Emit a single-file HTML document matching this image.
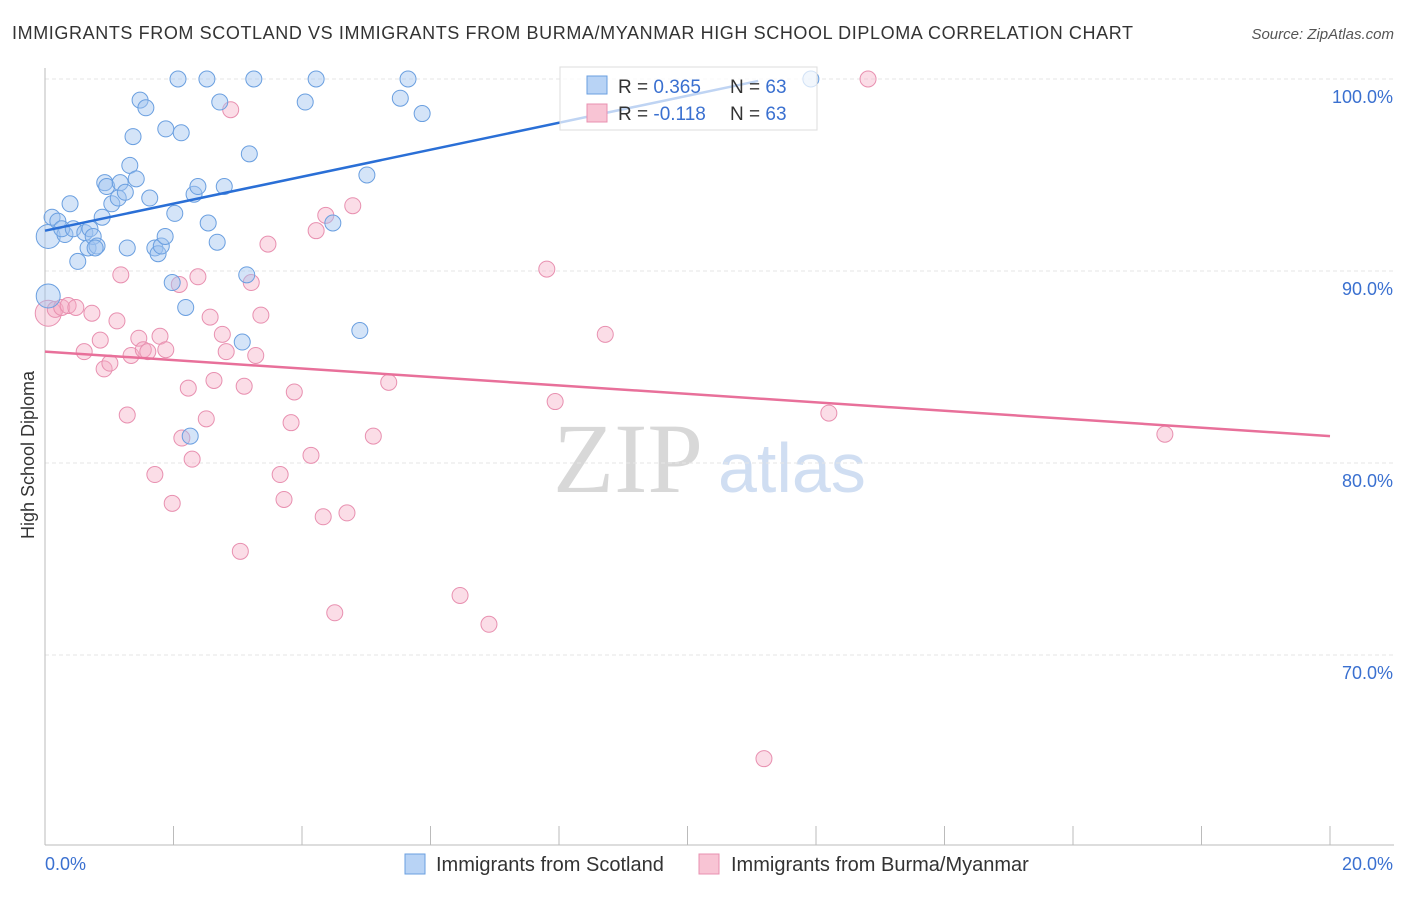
<!DOCTYPE html>
<html><head><meta charset="utf-8"><style>
body{margin:0;background:#fff;font-family:"Liberation Sans",sans-serif}
</style></head><body>
<svg id="c" width="1406" height="892" font-family="Liberation Sans, sans-serif">
<text x="12" y="39" font-size="18" fill="#333" textLength="1121">IMMIGRANTS FROM SCOTLAND VS IMMIGRANTS FROM BURMA/MYANMAR HIGH SCHOOL DIPLOMA CORRELATION CHART</text>
<text x="1394" y="39" font-size="15" fill="#555" text-anchor="end" font-style="italic">Source: ZipAtlas.com</text>
<text x="553" y="492" font-size="100" fill="#d8d8d8" style="font-family:'Liberation Serif',serif">ZIP</text>
<text x="718" y="492" font-size="70" fill="#d0def2">atlas</text>
<text x="34" y="455" font-size="18" fill="#333" transform="rotate(-90 34 455)" text-anchor="middle">High School Diploma</text>
<g id="grid"></g><g id="pts"></g><g id="lines"></g>
<g id="legend">
<rect x="560" y="67" width="257" height="63" fill="#fff" fill-opacity="0.7" stroke="#ddd"/>
<rect x="587" y="76" width="20" height="18" fill="#b8d3f5" stroke="#6a9fe0"/>
<rect x="587" y="104" width="20" height="18" fill="#f8c4d4" stroke="#e890b0"/>
<text x="618" y="93" font-size="19" fill="#333">R = <tspan fill="#3a70d0">0.365</tspan></text>
<text x="730" y="93" font-size="19" fill="#333">N = <tspan fill="#3a70d0">63</tspan></text>
<text x="618" y="120" font-size="19" fill="#333">R = <tspan fill="#3a70d0">-0.118</tspan></text>
<text x="730" y="120" font-size="19" fill="#333">N = <tspan fill="#3a70d0">63</tspan></text>
</g>
<g>
<rect x="405" y="854" width="20" height="20" fill="#b8d3f5" stroke="#6a9fe0"/>
<text x="436" y="871" font-size="20" fill="#333">Immigrants from Scotland</text>
<rect x="699" y="854" width="20" height="20" fill="#f8c4d4" stroke="#e890b0"/>
<text x="731" y="871" font-size="20" fill="#333">Immigrants from Burma/Myanmar</text>
</g>
</svg>
<script>
const yTicks=[100,90,80,70];
const xTickLabels=["0.0%","20.0%"];
const blueX=[0.05,0.05,0.11,0.2,0.31,0.39,0.26,0.44,0.51,0.62,0.67,0.7,0.75,0.81,0.78,0.89,0.93,0.96,1.04,1.14,1.17,1.25,1.28,1.32,1.37,1.42,1.48,1.57,1.63,1.71,1.76,1.81,1.87,1.88,1.98,2.02,2.07,2.12,2.19,2.26,2.32,2.38,2.52,2.54,2.68,2.72,2.79,3.14,3.07,3.18,3.25,4.05,4.22,4.48,4.9,5.01,5.53,5.65,5.87,11.92];
const blueY=[91.8,88.7,92.8,92.6,91.9,93.5,92.2,92.2,90.5,92.0,91.2,92.2,91.8,91.3,91.2,92.8,94.6,94.4,93.5,93.8,94.6,94.1,91.2,95.5,97.0,94.8,98.9,98.5,93.8,91.2,90.9,91.3,91.8,97.4,89.4,93.0,100,97.2,88.1,81.4,94.0,94.4,100,92.5,91.5,98.8,94.4,89.8,86.3,96.1,100,98.8,100,92.5,86.9,95.0,99.0,100,98.2,100];
const pinkX=[0.05,0.16,0.26,0.36,0.48,0.61,0.73,0.86,0.92,1.01,1.12,1.18,1.28,1.34,1.46,1.53,1.6,1.71,1.79,1.88,1.98,2.09,2.13,2.23,2.29,2.38,2.51,2.57,2.63,2.76,2.82,2.89,3.04,3.1,3.21,3.28,3.36,3.47,3.66,3.72,3.83,3.88,4.14,4.22,4.33,4.37,4.51,4.7,4.79,5.11,5.35,6.46,6.91,7.81,7.94,8.72,11.19,12.2,12.81,17.43];
const pinkY=[87.8,88.0,88.1,88.2,88.1,85.8,87.8,86.4,84.9,85.2,87.4,89.8,82.5,85.6,86.5,85.9,85.8,79.4,86.6,85.9,77.9,89.3,81.3,83.9,80.2,89.7,82.3,87.6,84.3,86.7,85.8,98.4,75.4,84.0,89.4,85.6,87.7,91.4,79.4,78.1,82.1,83.7,80.4,92.1,77.2,92.9,72.2,77.4,93.4,81.4,84.2,73.1,71.6,90.1,83.2,86.7,64.6,82.6,100,81.5];
const blueLine=[92.1,99.9], blueLineX=[0,11.1];
const pinkLine=[85.8,81.4], pinkLineX=[0,20];
const NS="http://www.w3.org/2000/svg";
const X=v=>45+v*64.25, Y=v=>79+(100-v)*19.2;
function mk(t,a,p){const e=document.createElementNS(NS,t);for(const k in a)e.setAttribute(k,a[k]);p.appendChild(e);return e;}
const g=document.getElementById('grid');
yTicks.forEach(t=>{const l=mk('line',{x1:45,x2:1394,y1:Y(t),y2:Y(t),stroke:'#e6e6e6','stroke-dasharray':'4,3'},g);


const tx=mk('text',{x:1393,y:Y(t)+24,'font-size':18,fill:'#3a70d0','text-anchor':'end'},g);tx.textContent=t.toFixed(1)+'%';

});
mk('line',{x1:45,x2:45,y1:68,y2:845,stroke:'#bbb'},g);
mk('line',{x1:45,x2:1394,y1:845,y2:845,stroke:'#bbb'},g);
for(let i=0;i<=10;i++){mk('line',{x1:X(i*2),x2:X(i*2),y1:826,y2:845,stroke:'#bbb'},g);}
[[0,'start',0],[20,'end',63]].forEach((d,i)=>{const t=mk('text',{x:X(d[0])+d[2],y:870,'font-size':18,fill:'#3a70d0','text-anchor':d[1]},g);t.textContent=xTickLabels[i];

});
const p=document.getElementById('pts');
pinkX.forEach((x,i)=>{const c=mk('circle',{cx:X(x),cy:Y(pinkY[i]),r:i==0?13:8,fill:'rgba(245,170,195,0.4)',stroke:'#e890b0','stroke-width':1},p);

});
blueX.forEach((x,i)=>{const c=mk('circle',{cx:X(x),cy:Y(blueY[i]),r:i<2?12:8,fill:'rgba(160,195,240,0.45)',stroke:'#6a9fe0','stroke-width':1},p);

});
const L=document.getElementById('lines');
const bl=mk('line',{x1:X(blueLineX[0]),y1:Y(blueLine[0]),x2:X(blueLineX[1]),y2:Y(blueLine[1]),stroke:'#2a6fd6','stroke-width':2.5},L);


const pl=mk('line',{x1:X(pinkLineX[0]),y1:Y(pinkLine[0]),x2:X(pinkLineX[1]),y2:Y(pinkLine[1]),stroke:'#e8709a','stroke-width':2.5},L);


document.getElementById('c').appendChild(document.getElementById('legend'));
</script>
</body></html>
